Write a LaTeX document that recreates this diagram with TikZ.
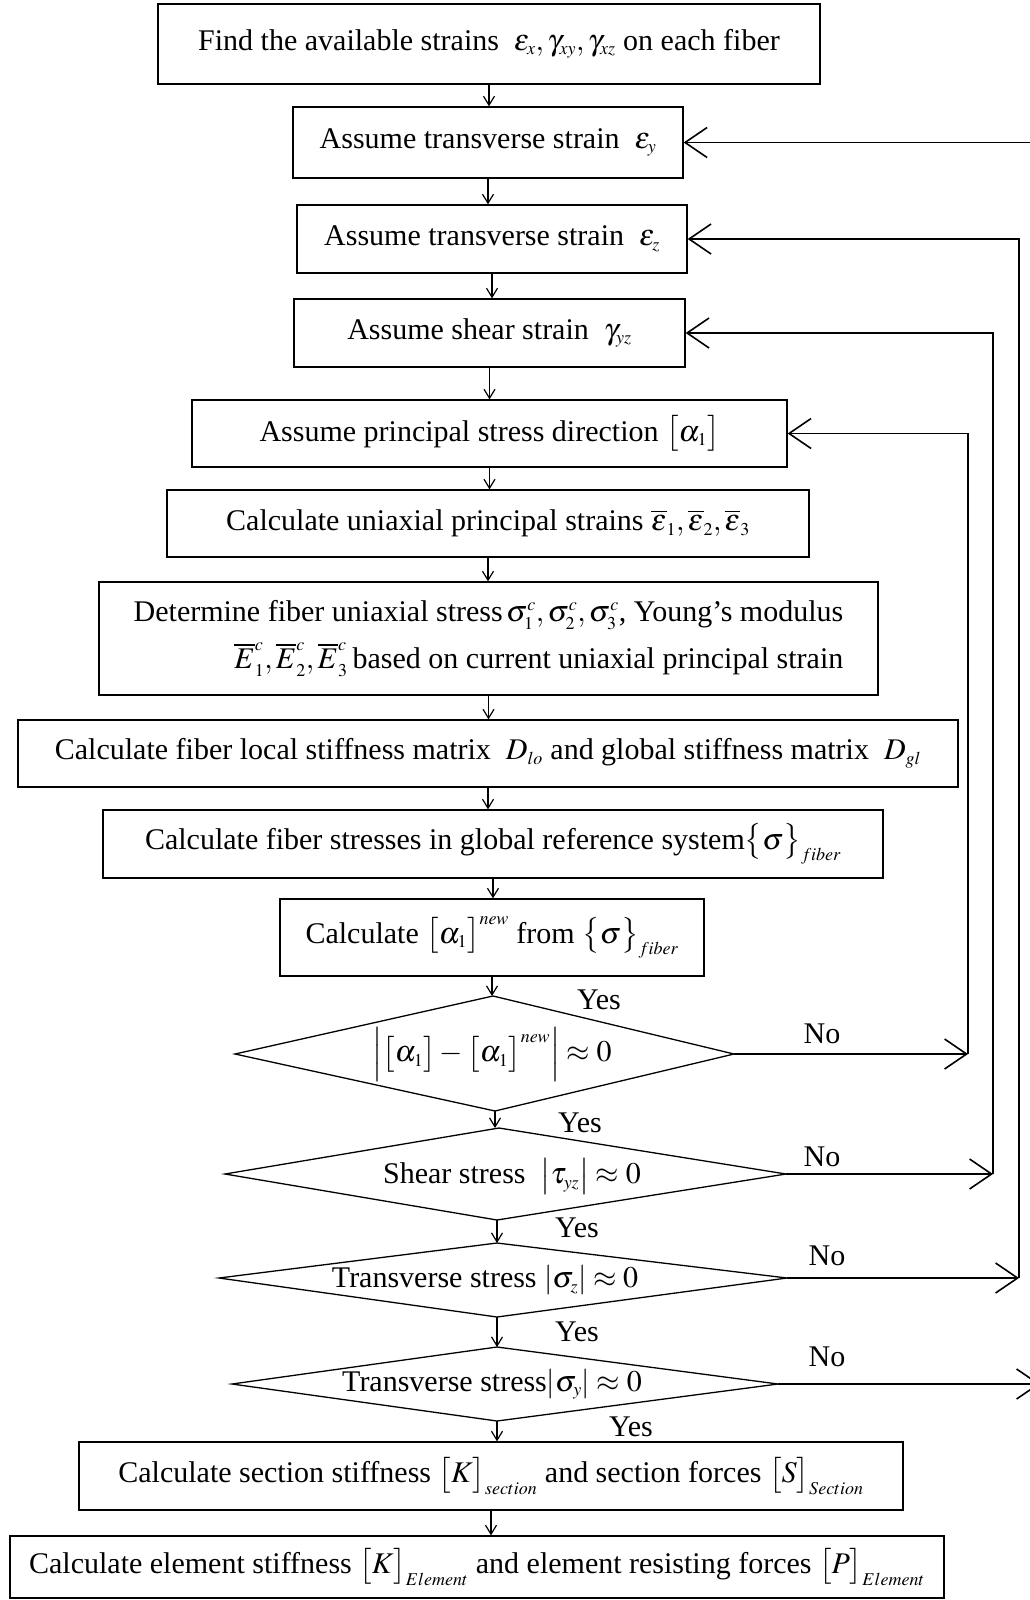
\documentclass[tikz,border=0pt]{standalone}
\usepackage{mathptmx}
\usepackage[no-math]{fontspec}
\setmainfont{Liberation Serif}
\DeclareMathSizes{30}{30}{18}{13}
\usetikzlibrary{arrows.meta}
\begin{document}
\begin{tikzpicture}[x=1pt,y=-1pt,
  box/.style={draw, line width=1.3pt, inner sep=0pt, font=\fontsize{30}{36}\selectfont},
  lbl/.style={font=\fontsize{30}{36}\selectfont, inner sep=0pt},
  flow/.style={line width=1.2pt, -{Straight Barb[length=9pt,width=11pt,line width=1.2pt]}},
  back/.style={line width=1.6pt, -{Straight Barb[length=22pt,width=30pt,line width=1.6pt]}},
  dia/.style={line width=1.3pt}
]
\useasboundingbox (0,0) rectangle (1030,1600);

% boxes
\node[box, minimum width=662pt, minimum height=80pt] (b1) at (489,44) {Find the available strains\ \ $\varepsilon_x,\gamma_{xy},\gamma_{xz}$ on each fiber};
\node[box, minimum width=390pt, minimum height=71pt] (b2) at (488,142.5) {Assume transverse strain\ \ $\varepsilon_y$};
\node[box, minimum width=390pt, minimum height=68pt] (b3) at (492,239) {Assume transverse strain\ \ $\varepsilon_z$};
\node[box, minimum width=391pt, minimum height=68pt] (b4) at (489.5,333) {Assume shear strain\ \ $\gamma_{yz}$};
\node[box, minimum width=595pt, minimum height=67pt] (b5) at (489.5,433.5) {Assume principal stress direction $\bigl[\alpha_1\bigr]$};
\node[box, minimum width=642pt, minimum height=67pt] (b6) at (488,523.5) {Calculate uniaxial principal strains\ $\overline{\varepsilon}_1,\overline{\varepsilon}_2,\overline{\varepsilon}_3$};
\node[box, minimum width=779pt, minimum height=113pt, align=right, font=\fontsize{30}{47}\selectfont] (b7) at (488.5,638.5) {Determine fiber uniaxial stress$\,\sigma_1^c,\sigma_2^c,\sigma_3^c$, Young’s modulus\\$\overline{E}_1^c,\overline{E}_2^c,\overline{E}_3^c$\,based on current uniaxial principal strain};
\node[box, minimum width=940pt, minimum height=67pt] (b8) at (488,753.5) {Calculate fiber local stiffness matrix\ \ $D_{lo}$ and global stiffness matrix\ \ $D_{gl}$};
\node[box, minimum width=780pt, minimum height=68pt] (b9) at (493,844) {Calculate fiber stresses in global reference system$\bigl\{\sigma\bigr\}_{fiber}$};
\node[box, minimum width=424pt, minimum height=77pt] (b10) at (492,937.5) {Calculate $\bigl[\alpha_1\bigr]^{new}$ from $\bigl\{\sigma\bigr\}_{fiber}$};
\node[box, minimum width=824pt, minimum height=68pt] (b11) at (491,1476) {Calculate section stiffness $\bigl[K\bigr]_{section}$ and section forces $\bigl[S\bigr]_{Section}$};
\node[box, minimum width=934pt, minimum height=62pt] (b12) at (477,1567) {Calculate element stiffness $\bigl[K\bigr]_{Element}$ and element resisting forces $\bigl[P\bigr]_{Element}$};

% diamonds
\coordinate (d1t) at (493,996);  \coordinate (d1r) at (734,1054); \coordinate (d1b) at (495,1111); \coordinate (d1l) at (235,1054);
\coordinate (d2t) at (499,1128); \coordinate (d2r) at (786,1174); \coordinate (d2b) at (497,1220); \coordinate (d2l) at (225,1174);
\coordinate (d3t) at (497,1243); \coordinate (d3r) at (787,1278); \coordinate (d3b) at (497,1317); \coordinate (d3l) at (219,1278);
\coordinate (d4t) at (497,1347); \coordinate (d4r) at (778,1384); \coordinate (d4b) at (497,1421); \coordinate (d4l) at (232,1384);
\draw[dia] (d1t) -- (d1r) -- (d1b) -- (d1l) -- cycle;
\draw[dia] (d2t) -- (d2r) -- (d2b) -- (d2l) -- cycle;
\draw[dia] (d3t) -- (d3r) -- (d3b) -- (d3l) -- cycle;
\draw[dia] (d4t) -- (d4r) -- (d4b) -- (d4l) -- cycle;
\node[lbl] (q1) at (492,1054) {$\Bigl|\bigl[\alpha_1\bigr]-\bigl[\alpha_1\bigr]^{new}\Bigr|\approx 0$};
\node[lbl] (q2) at (512,1176) {Shear stress\ \ $\bigl|\tau_{yz}\bigr|\approx 0$};
\node[lbl] (q3) at (485,1280) {Transverse stress $\left|\sigma_{z}\right|\approx 0$};
\node[lbl] (q4) at (492,1384) {Transverse stress$\left|\sigma_{y}\right|\approx 0$};

% main flow
\draw[flow] (b1.south) -- (b1.south |- b2.north);
\draw[flow] (b2.south) -- (b2.south |- b3.north);
\draw[flow] (b3.south) -- (b3.south |- b4.north);
\draw[flow] (b4.south) -- (b4.south |- b5.north);
\draw[flow] (b5.south) -- (b5.south |- b6.north);
\draw[flow] (b6.south) -- (b6.south |- b7.north);
\draw[flow] (b7.south) -- (b7.south |- b8.north);
\draw[flow] (b8.south) -- (b8.south |- b9.north);
\draw[flow] (b9.south) -- (b9.south |- b10.north);
\draw[flow] (b10.south) -- (b10.south |- d1t);
\draw[flow] (d1b) -- (d1b |- d2t);
\draw[flow] (d2b) -- (d2b |- d3t);
\draw[flow] (d3b) -- (d3b |- d4t);
\draw[flow] (d4b) -- (d4b |- b11.north);
\draw[flow] (b11.south) -- (b11.south |- b12.north);

% feedback loops
\coordinate (r1) at (968,1054);
\coordinate (r2) at (993,1174);
\coordinate (r3) at (1019,1278);
\coordinate (r4) at (1040,1384);
\draw[back] (d1r) -- (r1);
\draw[back] (r1) |- (b5.east);
\draw[back] (d2r) -- (r2);
\draw[back] (r2) |- (b4.east);
\draw[back] (d3r) -- (r3);
\draw[back] (r3) |- (b3.east);
\draw[back] (d4r) -- (r4);
\draw[back] (r4) |- (b2.east);

% labels
\node[lbl] (y1) at (599,1000) {Yes};
\node[lbl] (y2) at (580,1123) {Yes};
\node[lbl] (y3) at (577,1228) {Yes};
\node[lbl] (y4) at (577,1332) {Yes};
\node[lbl] (y5) at (631,1427) {Yes};
\node[lbl] (n1) at (822,1034) {No};
\node[lbl] (n2) at (822,1157) {No};
\node[lbl] (n3) at (827,1256) {No};
\node[lbl] (n4) at (827,1357) {No};
\end{tikzpicture}
\end{document}
